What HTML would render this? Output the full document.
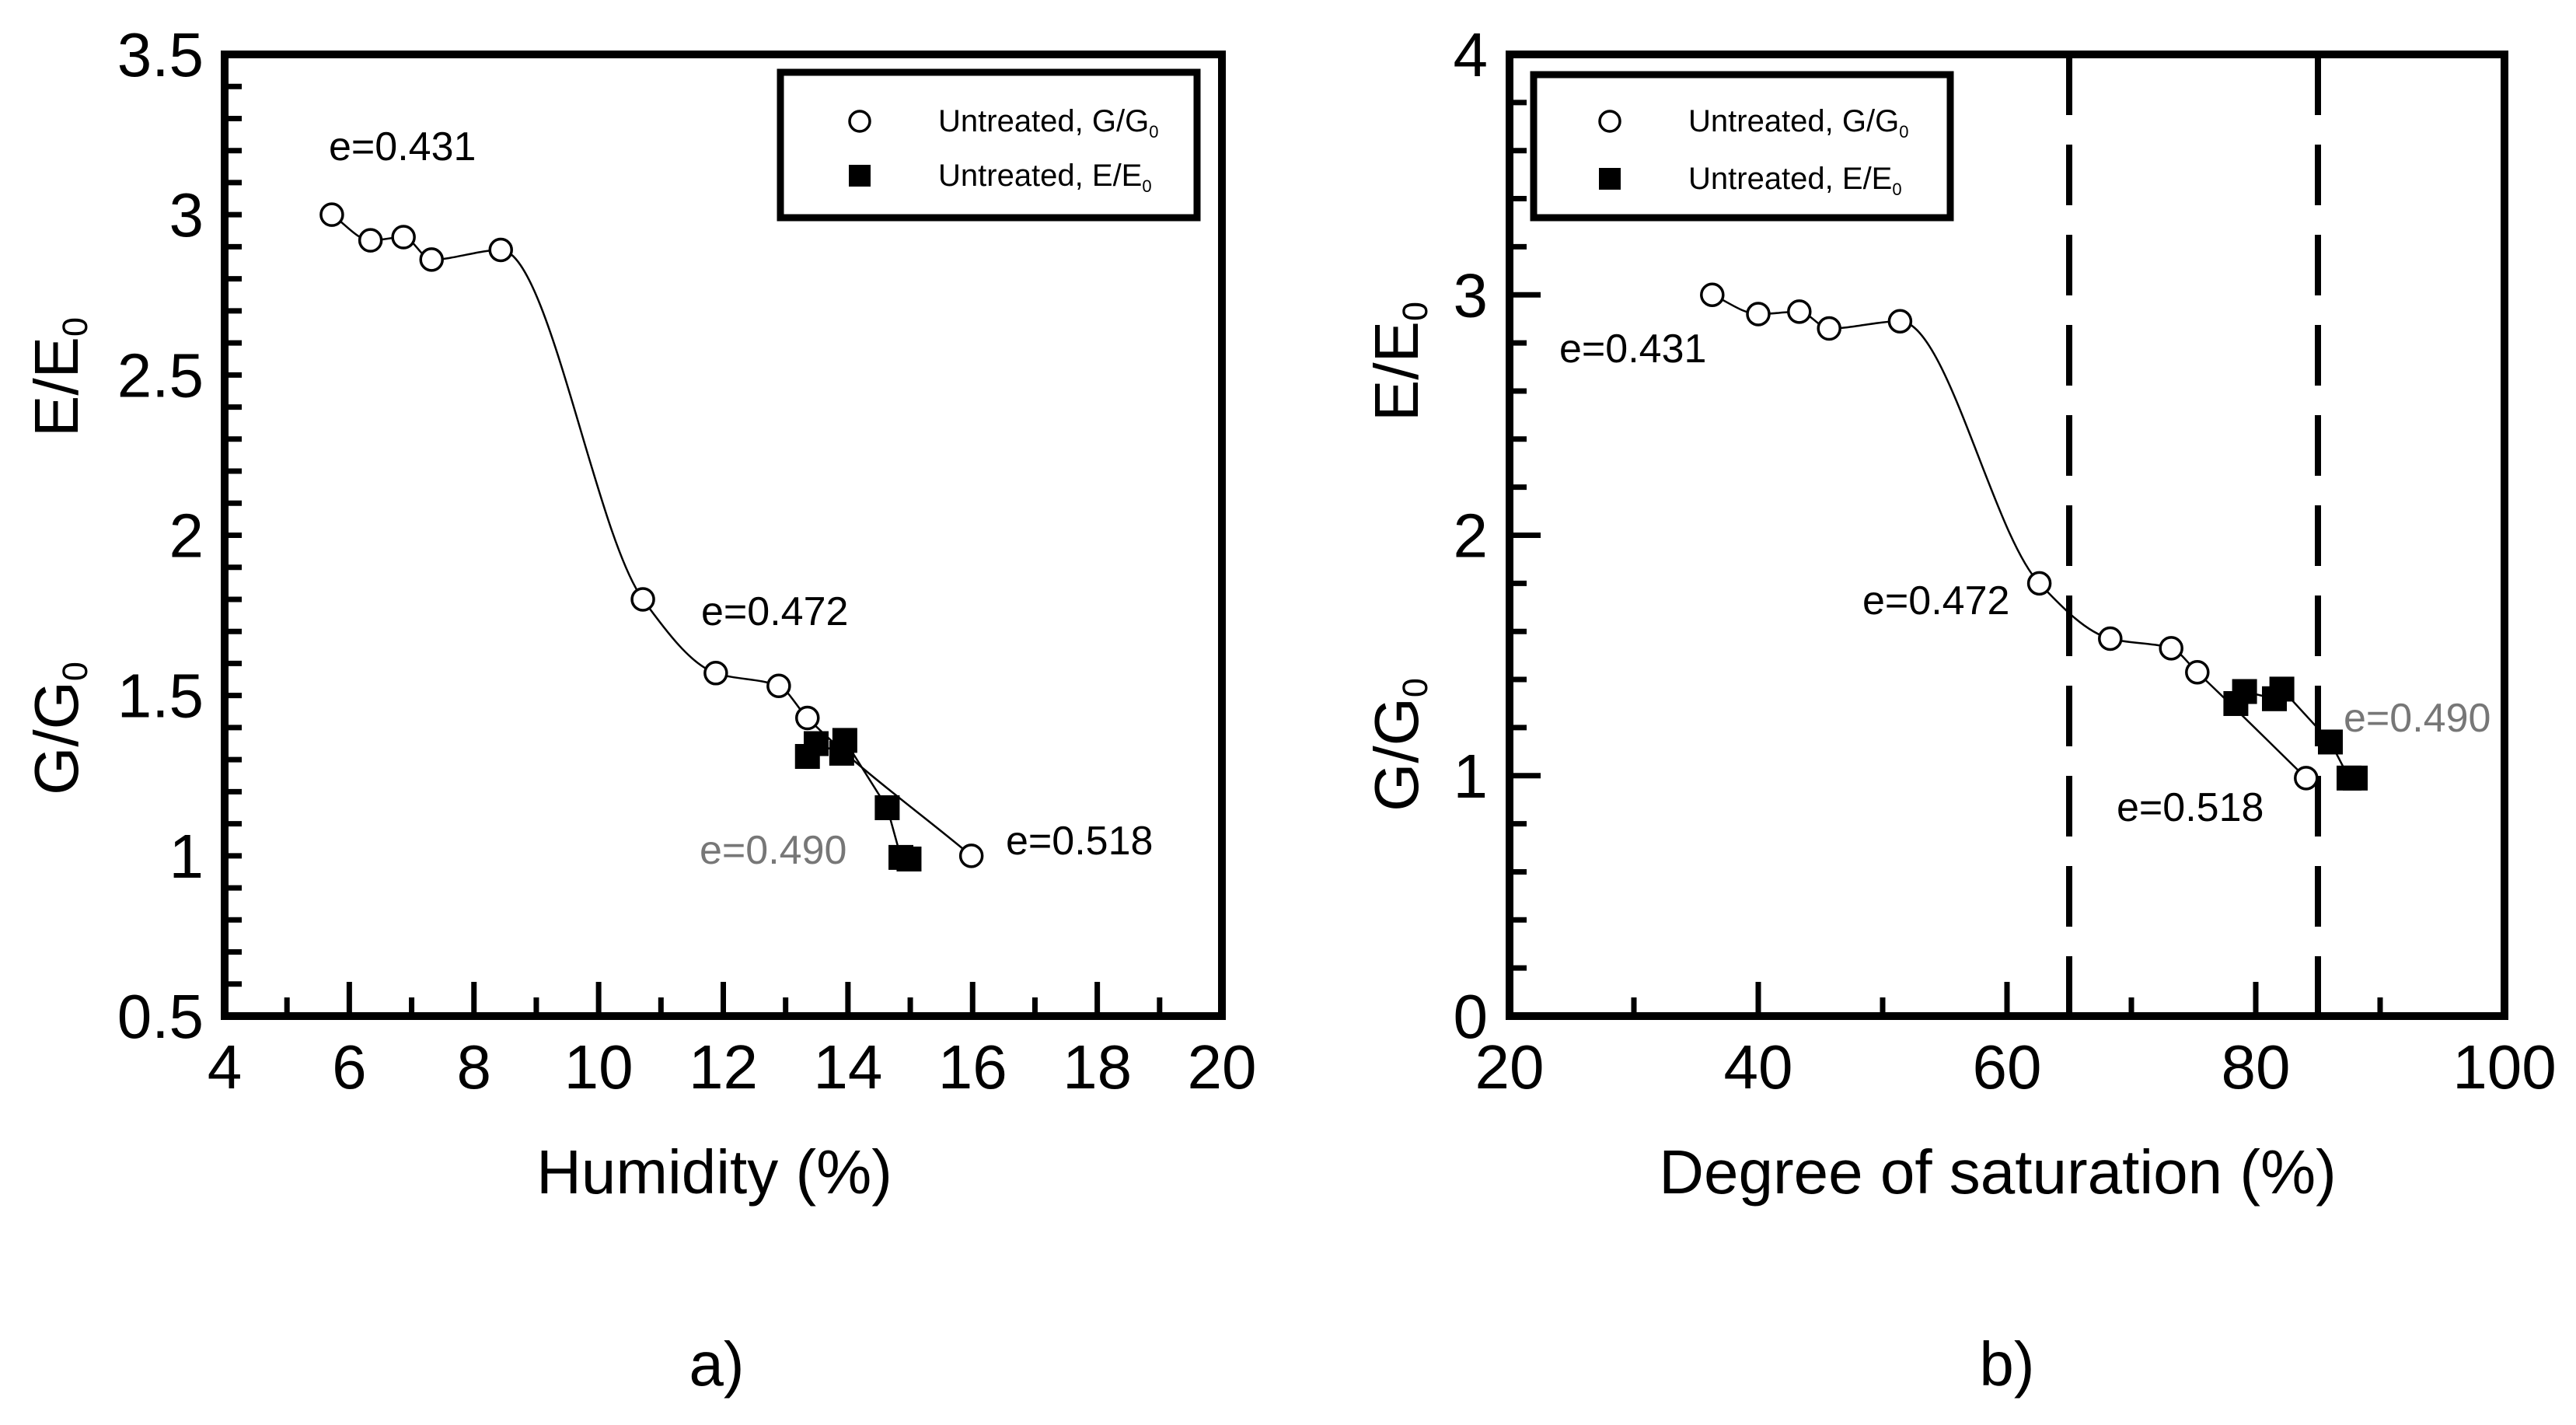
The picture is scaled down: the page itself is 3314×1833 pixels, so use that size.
<!DOCTYPE html>
<html><head><meta charset="utf-8">
<style>
html,body{margin:0;padding:0;background:#fff;}
svg{display:block;font-family:"Liberation Sans",Arial,sans-serif;}
</style></head>
<body>
<svg id="fig" width="3314" height="1833" viewBox="0 0 3314 1833" xmlns="http://www.w3.org/2000/svg"></svg>
<script>
// ---- Panel a data ----
const aCircleX = [5.72, 6.34, 6.87, 7.32, 8.43, 10.71, 11.88, 12.89, 13.35, 15.98];
const aCircleY = [3.00, 2.92, 2.93, 2.86, 2.89, 1.80, 1.57, 1.53, 1.43, 1.00];
const aSquareX = [13.35, 13.49, 13.9, 13.95, 14.63, 14.85, 14.98];
const aSquareY = [1.31, 1.35, 1.32, 1.36, 1.15, 0.995, 0.99];
const aXTicks = ["4","6","8","10","12","14","16","18","20"];
const aYTicks = ["0.5","1","1.5","2","2.5","3","3.5"];
// ---- Panel b data ----
const bCircleX = [36.3, 40.0, 43.3, 45.7, 51.4, 62.6, 68.3, 73.2, 75.3, 84.05];
const bCircleY = [3.00, 2.92, 2.93, 2.86, 2.89, 1.80, 1.57, 1.53, 1.43, 0.99];
const bSquareX = [78.4, 79.1, 81.5, 82.1, 86.0, 87.5, 88.0];
const bSquareY = [1.30, 1.35, 1.32, 1.36, 1.14, 0.99, 0.99];
const bXTicks = ["20","40","60","80","100"];
const bYTicks = ["0","1","2","3","4"];
const bDashed = [65, 85];

const NS = "http://www.w3.org/2000/svg";
const svg = document.getElementById('fig');
function mk(tag, attrs, parent){
  const e = document.createElementNS(NS, tag);
  for (const k in attrs) e.setAttribute(k, attrs[k]);
  (parent||svg).appendChild(e);
  return e;
}
function monotone(pts){
  const n = pts.length, dx=[], dy=[], m=[], t=[];
  for (let i=0;i<n-1;i++){ dx[i]=pts[i+1][0]-pts[i][0]; dy[i]=pts[i+1][1]-pts[i][1]; m[i]=dy[i]/dx[i]; }
  t[0]=m[0]; t[n-1]=m[n-2];
  for (let i=1;i<n-1;i++){
    if (m[i-1]*m[i]<=0) t[i]=0;
    else { const w1=2*dx[i]+dx[i-1], w2=dx[i]+2*dx[i-1]; t[i]=(w1+w2)/(w1/m[i-1]+w2/m[i]); }
  }
  let d = "M"+pts[0][0]+","+pts[0][1];
  for (let i=0;i<n-1;i++){
    const h=dx[i]/3;
    d+=" C"+(pts[i][0]+h)+","+(pts[i][1]+t[i]*h)+" "+(pts[i+1][0]-h)+","+(pts[i+1][1]-t[i+1]*h)+" "+pts[i+1][0]+","+pts[i+1][1];
  }
  return d;
}

function panel(cfg){
  const g = mk('g', {});
  
  
  const X = v => cfg.L + (v - cfg.xmin)/(cfg.xmax-cfg.xmin)*(cfg.R-cfg.L);
  const Y = v => cfg.B - (v - cfg.ymin)/(cfg.ymax-cfg.ymin)*(cfg.B-cfg.T);
  for (let v=cfg.ymin; v<=cfg.ymax+1e-9; v+=cfg.yminor){
    const isMaj = Math.abs((v-cfg.ymin)/cfg.ymajor - Math.round((v-cfg.ymin)/cfg.ymajor))<1e-6;
    const len = isMaj ? cfg.yMajLen : cfg.yMinLen;
    const t = mk('line',{x1:cfg.L,x2:cfg.L+len,y1:Y(v),y2:Y(v),stroke:'#000','stroke-width':7},g);
    
    
  }
  for (let v=cfg.xmin; v<=cfg.xmax+1e-9; v+=cfg.xminor){
    const isMaj = Math.abs((v-cfg.xmin)/cfg.xmajor - Math.round((v-cfg.xmin)/cfg.xmajor))<1e-6;
    const len = isMaj ? 44 : 24;
    const t = mk('line',{x1:X(v),x2:X(v),y1:cfg.B,y2:cfg.B-len,stroke:'#000','stroke-width':7},g);
    
    
  }
  (cfg.dashed||[]).forEach(v=>{
    const l = mk('line',{x1:X(v),x2:X(v),y1:cfg.T,y2:cfg.B,stroke:'#000','stroke-width':8,'stroke-dasharray':'78 38'},g);
    
    
  });
  const fr = mk('rect',{x:cfg.L,y:cfg.T,width:cfg.R-cfg.L,height:cfg.B-cfg.T,fill:'none',stroke:'#000','stroke-width':10},g);
  
  
  cfg.yTicks.forEach(s=>{
    const t = mk('text',{x:cfg.yLabX,y:Y(parseFloat(s))+28,'text-anchor':'end','font-size':80},g);
    t.textContent = s;
    
    
  });
  cfg.xTicks.forEach(s=>{
    const t = mk('text',{x:X(parseFloat(s)),y:1400,'text-anchor':'middle','font-size':80},g);
    t.textContent = s;
    
    
  });
  const cp = cfg.cx.map((v,i)=>[X(v),Y(cfg.cy[i])]);
  const cur = mk('path',{d:monotone(cp),fill:'none',stroke:'#000','stroke-width':2.5},g);
  
  
  const sp = cfg.sx.map((v,i)=>X(v)+","+Y(cfg.sy[i])).join(" ");
  const sl = mk('polyline',{points:sp,fill:'none',stroke:'#000','stroke-width':2.5},g);
  
  
  cfg.cx.forEach((v,i)=>{
    const c = mk('circle',{cx:X(v),cy:Y(cfg.cy[i]),r:14,fill:'#fff',stroke:'#000','stroke-width':3.5},g);
    
    
  });
  cfg.sx.forEach((v,i)=>{
    const r = mk('rect',{x:X(v)-16,y:Y(cfg.sy[i])-16,width:32,height:32,fill:'#000'},g);
    
    
  });
  const lg = mk('g',{},g);
  
  
  const lb = cfg.leg;
  mk('rect',{x:lb.x,y:lb.y,width:lb.w,height:lb.h,fill:'#fff',stroke:'#000','stroke-width':9},lg);
  const e1 = mk('g',{},lg);
  
  
  mk('circle',{cx:lb.mx,cy:lb.r1,r:13,fill:'#fff',stroke:'#000','stroke-width':3.5},e1);
  const t1 = mk('text',{x:lb.tx,y:lb.r1+13,'font-size':40},e1);
  t1.innerHTML = 'Untreated, G/G<tspan font-size="22" dy="8">0</tspan>';
  const e2 = mk('g',{},lg);
  
  
  mk('rect',{x:lb.mx-14,y:lb.r2-14,width:28,height:28,fill:'#000'},e2);
  const t2 = mk('text',{x:lb.tx,y:lb.r2+13,'font-size':40},e2);
  t2.innerHTML = 'Untreated, E/E<tspan font-size="22" dy="8">0</tspan>';
  cfg.ann.forEach(a=>{
    const t = mk('text',{x:a[1],y:a[2]+19,'font-size':52,fill:a[3]||'#000'},g);
    t.textContent = a[0];
    
    
  });
  const ya = mk('text',{transform:`translate(${cfg.ytx},${cfg.yE}) rotate(-90)`,'text-anchor':'middle','font-size':80},g);
  ya.innerHTML = 'E/E<tspan font-size="45" dy="12">0</tspan>';
  
  
  const yb = mk('text',{transform:`translate(${cfg.ytx},${cfg.yG}) rotate(-90)`,'text-anchor':'middle','font-size':80},g);
  yb.innerHTML = 'G/G<tspan font-size="45" dy="12">0</tspan>';
  
  
  const xt = mk('text',{x:cfg.xtc,y:1535,'text-anchor':'middle','font-size':80},g);
  xt.textContent = cfg.xtitle;
  
  
  const pl = mk('text',{x:cfg.plx,y:1782,'text-anchor':'middle','font-size':80},g);
  pl.textContent = cfg.pl;
  
  
}

panel({name:'panel-a-humidity', L:289, R:1572, T:70, B:1307, xmin:4, xmax:20, ymin:0.5, ymax:3.5,
  xminor:1, xmajor:2, yminor:0.1, ymajor:0.5, yMajLen:22, yMinLen:22, yLabX:262,
  xTicks:aXTicks, yTicks:aYTicks, cx:aCircleX, cy:aCircleY, sx:aSquareX, sy:aSquareY,
  leg:{x:1004,y:93,w:536,h:187,mx:1106,tx:1207,r1:156,r2:226},
  ann:[["e=0.431",423,187],["e=0.472",902,785],["e=0.490",900,1092,"#777"],["e=0.518",1294,1080]],
  ytx:100, yE:485, yG:937, xtitle:'Humidity (%)', xtc:919, plx:922, pl:'a)'});

panel({name:'panel-b-saturation', L:1942, R:3222, T:70, B:1307, xmin:20, xmax:100, ymin:0, ymax:4,
  xminor:10, xmajor:20, yminor:0.2, ymajor:1, yMajLen:40, yMinLen:22, yLabX:1914,
  xTicks:bXTicks, yTicks:bYTicks, cx:bCircleX, cy:bCircleY, sx:bSquareX, sy:bSquareY, dashed:bDashed,
  leg:{x:1973,y:96,w:536,h:184,mx:2071,tx:2172,r1:156,r2:230},
  ann:[["e=0.431",2006,447],["e=0.472",2396,771],["e=0.490",3015,922,"#777"],["e=0.518",2723,1037]],
  ytx:1824, yE:465, yG:958, xtitle:'Degree of saturation (%)', xtc:2570, plx:2582, pl:'b)'});
</script>
</body></html>
